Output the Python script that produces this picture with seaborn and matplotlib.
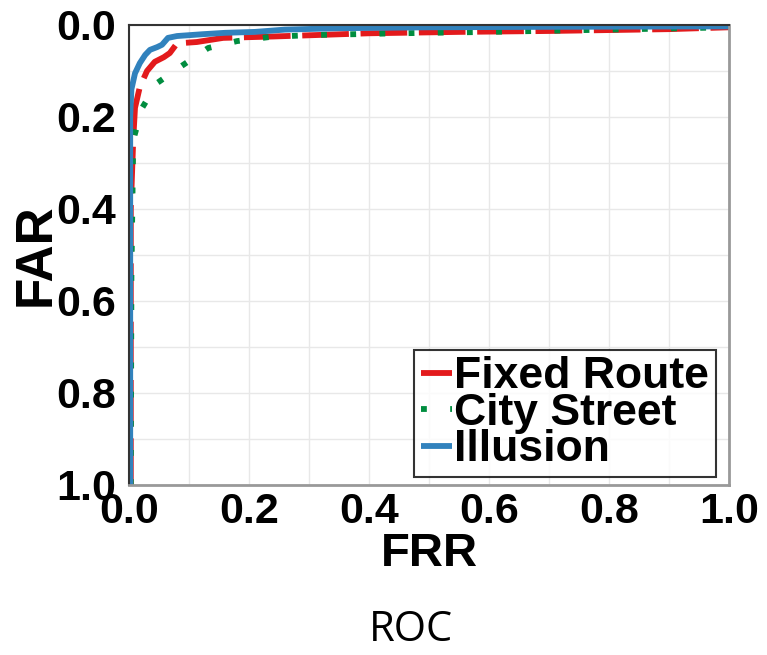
import matplotlib
matplotlib.use("Agg")
import matplotlib.pyplot as plt
import seaborn as sns
import pandas as pd
import numpy as np

# ---- data ----
fixed_frr = [0.003, 0.003, 0.007, 0.010, 0.018, 0.030, 0.043, 0.058, 0.068, 0.080, 0.113, 0.157, 0.240, 0.400, 0.550, 0.700, 0.900, 1.000]
fixed_far = [1.000, 0.400, 0.250, 0.180, 0.135, 0.100, 0.080, 0.070, 0.061, 0.040, 0.037, 0.028, 0.025, 0.018, 0.015, 0.013, 0.009, 0.005]

city_frr = [0.003, 0.004, 0.007, 0.022, 0.047, 0.090, 0.132, 0.180, 0.235, 0.300, 0.450, 0.600, 0.800, 1.000]
city_far = [1.000, 0.550, 0.250, 0.180, 0.126, 0.087, 0.050, 0.035, 0.026, 0.022, 0.018, 0.015, 0.010, 0.005]

illusion_frr = [0.002, 0.002, 0.002, 0.004, 0.010, 0.018, 0.027, 0.035, 0.047, 0.055, 0.065, 0.080, 0.123, 0.160, 0.210, 0.260, 0.350, 0.500, 0.700, 1.000]
illusion_far = [1.000, 0.500, 0.200, 0.140, 0.105, 0.083, 0.065, 0.054, 0.048, 0.043, 0.028, 0.024, 0.020, 0.017, 0.015, 0.010, 0.007, 0.005, 0.004, 0.003]

series_names = ["Fixed Route", "City Street", "Illusion"]
tick_vals = [0.0, 0.2, 0.4, 0.6, 0.8, 1.0]
tick_labels = ["0.0", "0.2", "0.4", "0.6", "0.8", "1.0"]

sns.set_theme(style="white")
plt.rcParams['font.family'] = ['Liberation Sans', 'DejaVu Sans']
plt.rcParams['text.color'] = 'black'
plt.rcParams['axes.labelcolor'] = 'black'
plt.rcParams['xtick.color'] = 'black'
plt.rcParams['ytick.color'] = 'black'

fig = plt.figure(figsize=(7.67, 6.55), dpi=100)
ax = fig.add_axes([129/767, 1-485/655, 600/767, 460/655])

colors = {"Fixed Route": "#e31a1c", "City Street": "#008d3f", "Illusion": "#3182bd"}
data = {"Fixed Route": (fixed_frr, fixed_far),
        "City Street": (city_frr, city_far),
        "Illusion": (illusion_frr, illusion_far)}

lw = 4.2
for name in series_names:
    frr, far = data[name]
    df = pd.DataFrame({"FRR": frr, "FAR": far})
    sns.lineplot(data=df, x="FRR", y="FAR", sort=False, estimator=None,
                 ax=ax, color=colors[name], linewidth=lw, label=name)

lines = ax.get_lines()
lines[0].set_dashes([8, 2])
lines[0].set_dash_capstyle("butt")
lines[1].set_dashes([1, 4])
lines[1].set_dash_capstyle("butt")
lines[2].set_solid_capstyle("butt")

ax.set_xlim(0, 1)
ax.set_ylim(1, 0)
ax.set_xticks(tick_vals)
ax.set_xticklabels(tick_labels)
ax.set_yticks(tick_vals)
ax.set_yticklabels(tick_labels)
ax.set_xticks(np.arange(0.1, 1.0, 0.2), minor=True)
ax.set_yticks(np.arange(0.1, 1.0, 0.2), minor=True)
ax.grid(True, which="both", color="#e8e8e8", linewidth=1.0)
ax.set_axisbelow(True)

for lab in ax.get_xticklabels() + ax.get_yticklabels():
    lab.set_fontsize(31)
    lab.set_fontweight("bold")
    lab.set_color("black")
ax.tick_params(axis="both", which="major", direction="out", length=4, width=1.2, color="#333333")
ax.tick_params(axis="both", which="minor", length=0)
ax.tick_params(axis="y", pad=5)
ax.tick_params(axis="x", pad=1)

for s in ["left", "top"]:
    ax.spines[s].set_color("#333333")
    ax.spines[s].set_linewidth(1.5)
for s in ["right", "bottom"]:
    ax.spines[s].set_color("#999999")
    ax.spines[s].set_linewidth(2)

ax.set_xlabel("FRR", fontsize=34, fontweight="bold", va="center", color="black")
ax.xaxis.set_label_coords(0.5, -0.15)
ax.set_ylabel("FAR", fontsize=37, fontweight="bold", va="center", color="black")
ax.yaxis.set_label_coords(-0.155, 0.5)

leg = ax.legend(loc="lower right", bbox_to_anchor=(1 - 13/600, 8/460),
                prop={"family": "Liberation Sans", "weight": "bold", "size": 32},
                frameon=True, fancybox=False, edgecolor="black",
                labelspacing=-0.1, handlelength=0.7, handletextpad=0.05,
                borderpad=0.15, borderaxespad=0)
leg.get_frame().set_linewidth(1.5)
for t in leg.get_texts():
    t.set_color("black")

fig.text(411/767, 1-630/655, "ROC", fontsize=30, family=["Open Sans", "DejaVu Sans"],
         ha="center", va="center", color="black")

fig.savefig("out.png", dpi=100)
